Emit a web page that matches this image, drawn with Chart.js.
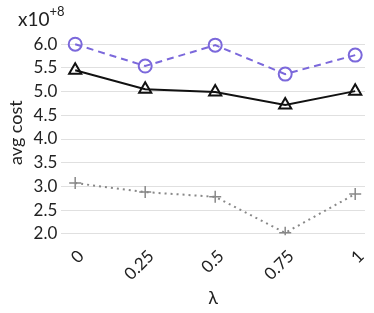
<!DOCTYPE html>
<html>
<head>
<meta charset="utf-8">
<script src="https://cdn.jsdelivr.net/npm/chart.js@4"></script>
<style>
    html, body { margin: 0; padding: 0; background: #fff; }
    #wrap { position: relative; width: 374px; height: 313px; }
    #exp { position: absolute; left: 18px; top: 6px; font: 19px Lato, sans-serif; color: #222; }
    #exp sup { font-size: 13px; position: relative; top: -3px; }
</style>
</head>
<body>
<div id="wrap">
    <canvas id="costChart" width="374" height="313"></canvas>
    <div id="exp">x10<sup>+8</sup></div>
</div>
<script>
const lambdas = [0, 0.25, 0.5, 0.75, 1];
const tickLabels = ['0', '0.25', '0.5', '0.75', '1'];
const yTicks = [2.0, 2.5, 3.0, 3.5, 4.0, 4.5, 5.0, 5.5, 6.0];

const dashedSeries = [6.0, 5.54, 5.98, 5.37, 5.77];
const solidSeries = [5.45, 5.05, 4.99, 4.72, 5.01];
const dottedSeries = [3.07, 2.88, 2.78, 2.02, 2.84];

const toPoints = vals => vals.map((v, i) => ({ x: lambdas[i], y: v }));

const ctx = document.getElementById('costChart');
new Chart(ctx, {
    type: 'line',
    data: {
        datasets: [
            {
                data: toPoints(dashedSeries),
                borderColor: '#7b68db',
                borderWidth: 2,
                borderDash: [7, 5],
                pointStyle: 'circle',
                pointRadius: 6.5,
                pointBorderWidth: 2,
                pointBorderColor: '#7b68db',
                pointBackgroundColor: 'rgba(0,0,0,0)'
            },
            {
                data: toPoints(solidSeries),
                borderColor: '#111',
                borderWidth: 2,
                pointStyle: 'triangle',
                pointRadius: 7,
                pointBorderWidth: 2,
                pointBorderColor: '#111',
                pointBackgroundColor: 'rgba(0,0,0,0)'
            },
            {
                data: toPoints(dottedSeries),
                borderColor: '#888',
                borderWidth: 2,
                borderDash: [2, 4],
                pointStyle: 'cross',
                pointRadius: 6,
                pointBorderWidth: 1.5,
                pointBorderColor: '#888'
            }
        ]
    },
    options: {
        responsive: false,
        animation: false,
        layout: { padding: { top: 30, right: 9, left: 2, bottom: 4 } },
        plugins: { legend: { display: false }, tooltip: { enabled: false } },
        scales: {
            x: {
                type: 'linear',
                min: -0.0495,
                max: 1.035,
                afterBuildTicks: axis => { axis.ticks = lambdas.map(v => ({ value: v })); },
                grid: { display: false },
                border: { display: false },
                ticks: {
                    minRotation: 45,
                    maxRotation: 45,
                    labelOffset: 6,
                    padding: 3,
                    color: '#222',
                    font: { family: 'Lato', size: 17 },
                    callback: (v, i) => tickLabels[i]
                },
                title: { display: true, text: 'λ', color: '#222', font: { family: 'Lato', size: 18 }, padding: 0 }
            },
            y: {
                min: 1.97,
                max: 6.3,
                afterBuildTicks: axis => { axis.ticks = yTicks.map(v => ({ value: v })); },
                grid: { color: '#e0e0e0', drawTicks: false },
                border: { display: false },
                ticks: {
                    padding: 4,
                    color: '#222',
                    font: { family: 'Lato', size: 17 },
                    callback: v => v.toFixed(1)
                },
                title: { display: true, text: 'avg cost', color: '#222', font: { family: 'Lato', size: 18 }, padding: { top: 3, bottom: 3 } }
            }
        }
    }
});
</script>
</body>
</html>
